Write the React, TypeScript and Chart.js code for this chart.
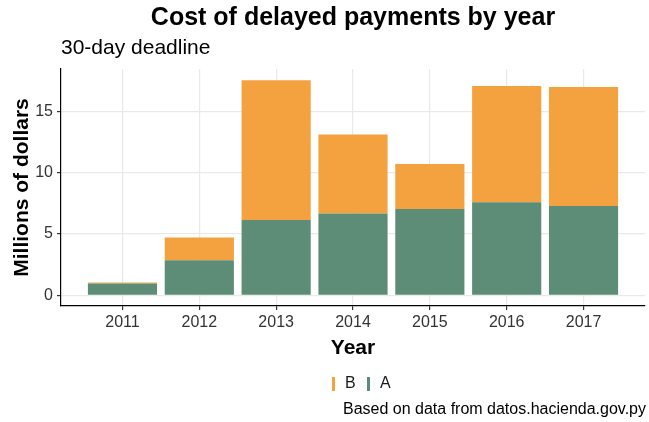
import React, { useEffect, useRef } from "react";
import { Chart, registerables } from "chart.js";

Chart.register(...registerables);

const years = [2011, 2012, 2013, 2014, 2015, 2016, 2017];
const seriesA = [0.96, 2.86, 6.14, 6.68, 7.04, 7.59, 7.28];
const seriesB = [0.08, 1.86, 11.43, 6.44, 3.68, 9.51, 9.72];
const yTickValues = [0, 5, 10, 15];

const titleText = "Cost of delayed payments by year";
const subtitleText = "30-day deadline";
const xTitle = "Year";
const yTitle = "Millions of dollars";
const captionText = "Based on data from datos.hacienda.gov.py";
const legendLabels = ["B", "A"];

const COLOR_A = "#5E8D77";
const COLOR_B = "#F3A23F";
const FONT = "'Liberation Sans', Arial, Helvetica, sans-serif";

export default function App() {
  const ref = useRef<HTMLCanvasElement | null>(null);

  useEffect(() => {
    document.body.style.margin = "0";
    const canvas = ref.current!;
    const textPlugin = {
      id: "textPlugin",
      afterDraw(chart: any) {
        const ctx = chart.ctx as CanvasRenderingContext2D;
        const area = chart.chartArea;
        const cx = (area.left + area.right) / 2;
        ctx.save();
        ctx.fillStyle = "#000";
        ctx.textBaseline = "middle";
        // title
        ctx.font = `bold 25px ${FONT}`;
        ctx.textAlign = "center";
        ctx.fillText(titleText, cx, 18);
        // subtitle
        ctx.font = `21px ${FONT}`;
        ctx.textAlign = "left";
        ctx.fillText(subtitleText, area.left, 48);
        // x title
        ctx.font = `bold 21px ${FONT}`;
        ctx.textAlign = "center";
        ctx.fillText(xTitle, cx, 348);
        // y title
        ctx.save();
        ctx.translate(22, (area.top + area.bottom) / 2);
        ctx.rotate(-Math.PI / 2);
        ctx.fillText(yTitle, 0, 0);
        ctx.restore();
        // legend
        ctx.font = `16px ${FONT}`;
        ctx.textAlign = "left";
        const ly = 384;
        const colors = [COLOR_B, COLOR_A];
        let lx = 332;
        legendLabels.forEach((lab, i) => {
          ctx.fillStyle = colors[i];
          ctx.fillRect(lx, ly - 7, 3, 14);
          ctx.fillStyle = "#1a1a1a";
          ctx.fillText(lab, lx + 13, ly);
          lx += 35;
        });
        // caption
        ctx.fillStyle = "#000";
        ctx.font = `16px ${FONT}`;
        ctx.textAlign = "right";
        ctx.fillText(captionText, 646, 410);
        ctx.restore();
      },
    };

    const chart = new Chart(canvas, {
      type: "bar",
      data: {
        datasets: [
          {
            label: "A",
            data: years.map((y, i) => ({ x: y, y: seriesA[i] })),
            backgroundColor: COLOR_A,
            stack: "s",
            barPercentage: 0.9,
            categoryPercentage: 1,
          },
          {
            label: "B",
            data: years.map((y, i) => ({ x: y, y: seriesB[i] })),
            backgroundColor: COLOR_B,
            stack: "s",
            barPercentage: 0.9,
            categoryPercentage: 1,
          },
        ],
      },
      options: {
        animation: false,
        responsive: false,
        maintainAspectRatio: false,
        devicePixelRatio: 1,
        layout: { padding: { left: 21, right: 4, top: 69, bottom: 86 } },
        plugins: {
          legend: { display: false },
          title: { display: false },
          tooltip: { enabled: false },
        },
        scales: {
          x: {
            type: "linear",
            offset: false,
            min: 2010.2,
            max: 2017.8,
            afterFit: (s: any) => {
              s.height = 30;
            },
            afterBuildTicks: (s: any) => {
              s.ticks = years.map((v) => ({ value: v }));
            },
            ticks: {
              includeBounds: false,
              stepSize: 1,
              color: "#333",
              font: { family: FONT, size: 16 },
              padding: 3,
              callback: (v: any) => String(v),
            },
            grid: {
              offset: false,
              color: "#e9e9e9",
              lineWidth: 1.2,
              tickColor: "#333",
              tickLength: 4,
              drawOnChartArea: true,
            },
            border: { display: true, color: "#000", width: 1.2 },
          },
          y: {
            stacked: true,
            min: -0.88,
            max: 18.48,
            afterFit: (s: any) => {
              s.width = 40;
            },
            afterBuildTicks: (s: any) => {
              s.ticks = yTickValues.map((v) => ({ value: v }));
            },
            ticks: {
              includeBounds: false,
              stepSize: 5,
              color: "#333",
              font: { family: FONT, size: 16 },
              padding: 4,
              callback: (v: any) => String(v),
            },
            grid: {
              color: "#e9e9e9",
              lineWidth: 1.2,
              tickColor: "#333",
              tickLength: 4,
            },
            border: { display: true, color: "#000", width: 1.2 },
          },
        },
      },
      plugins: [textPlugin],
    } as any);
    return () => chart.destroy();
  }, []);

  return (
    <div style={{ width: 649, height: 422 }}>
      <canvas ref={ref} width={649} height={422} style={{ display: "block", width: 649, height: 422 }} />
    </div>
  );
}
